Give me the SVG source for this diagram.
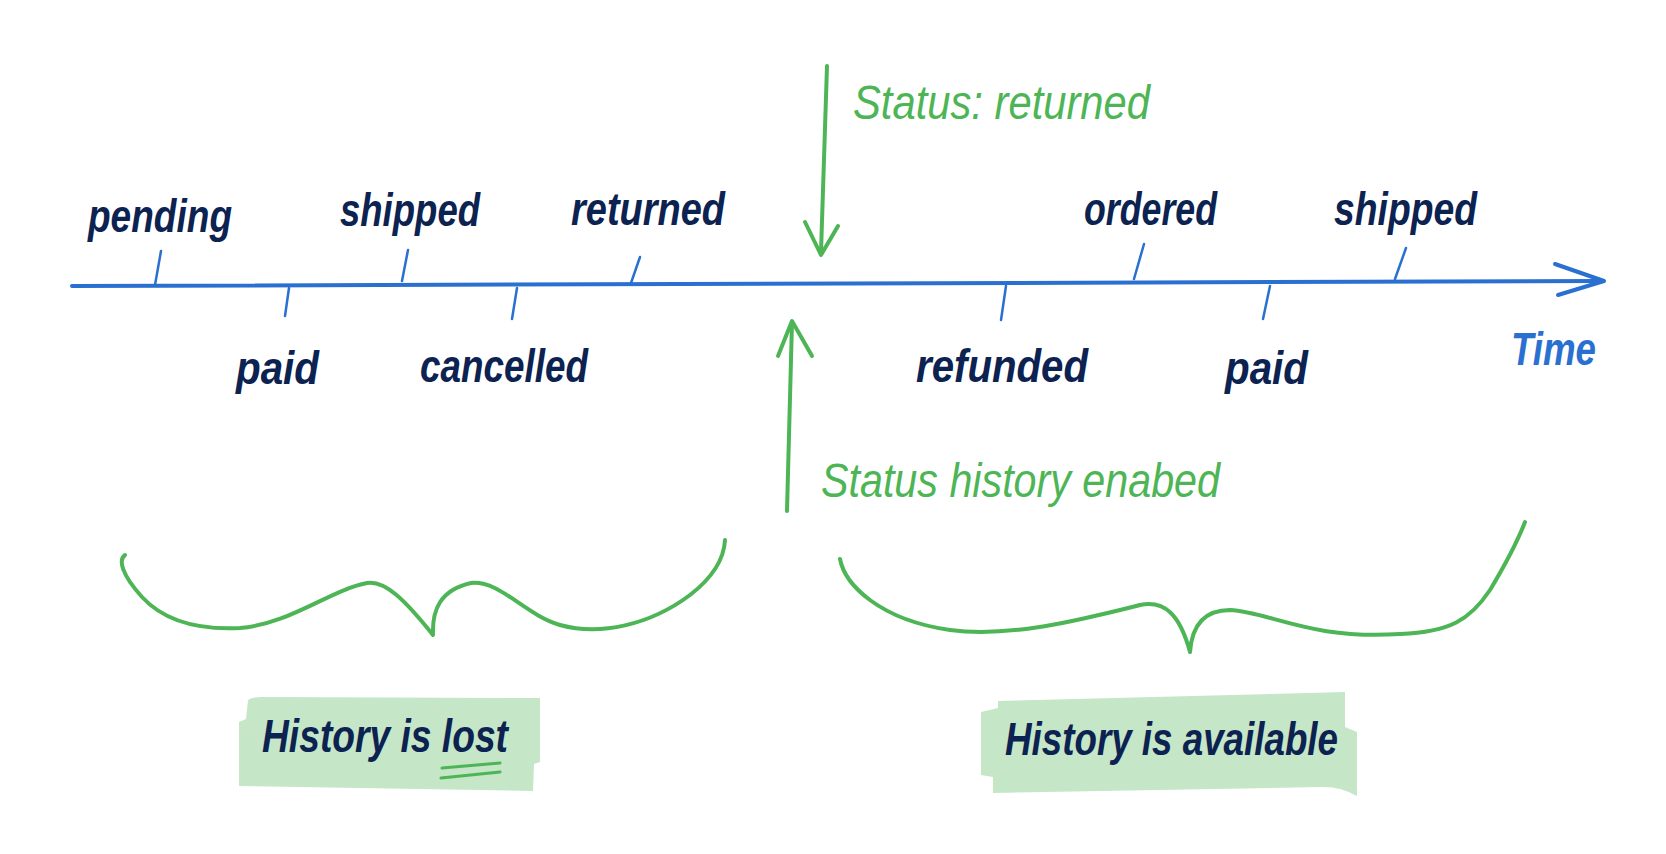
<svg xmlns="http://www.w3.org/2000/svg" width="1666" height="854" viewBox="0 0 1666 854">
<style>
.lbl{font-family:"Liberation Sans",Arial,sans-serif;font-weight:bold;font-style:italic;fill:#0c2251;font-size:46px}
.grn{font-family:"Liberation Sans",Arial,sans-serif;font-style:italic;fill:#4db555;font-size:48px}
.tick{stroke:#2a70d0;stroke-width:2.5;stroke-linecap:round;fill:none}
.axis{stroke:#2a70d0;stroke-width:4;stroke-linecap:round;stroke-linejoin:round;fill:none}
.garrow{stroke:#4db555;stroke-width:4;stroke-linecap:round;stroke-linejoin:round;fill:none}
.brace{stroke:#4db555;stroke-width:4;stroke-linecap:round;stroke-linejoin:round;fill:none}
.box{fill:#c5e6c7}
</style>
<rect width="1666" height="854" fill="#ffffff"/>

<g id="connectors">
  <path class="axis" d="M72,286 Q800,283 1602,281"/>
  <path class="axis" d="M1555,264 L1604,281 L1558,295"/>
  <g id="ticks">
    <line class="tick" x1="161" y1="251" x2="155" y2="285"/>
    <line class="tick" x1="289" y1="288" x2="285" y2="316"/>
    <line class="tick" x1="408" y1="250" x2="402" y2="281"/>
    <line class="tick" x1="517" y1="288" x2="512" y2="319"/>
    <line class="tick" x1="640" y1="257" x2="631" y2="283"/>
    <line class="tick" x1="1006" y1="286" x2="1001" y2="320"/>
    <line class="tick" x1="1144" y1="244" x2="1134" y2="279"/>
    <line class="tick" x1="1270" y1="286" x2="1263" y2="319"/>
    <line class="tick" x1="1406" y1="248" x2="1395" y2="279"/>
  </g>
  <path class="garrow" d="M827,66 L821,252"/>
  <path class="garrow" d="M805,222 L821,255 L838,226"/>
  <path class="garrow" d="M787,511 L792,322"/>
  <path class="garrow" d="M778,356 L792,321 L812,356"/>
</g>

<g id="timeline-labels">
  <text class="lbl" x="88" y="232" textLength="144" lengthAdjust="spacingAndGlyphs">pending</text>
  <text class="lbl" x="340" y="226" textLength="140" lengthAdjust="spacingAndGlyphs">shipped</text>
  <text class="lbl" x="571" y="225" textLength="154" lengthAdjust="spacingAndGlyphs">returned</text>
  <text class="lbl" x="236" y="384" textLength="83" lengthAdjust="spacingAndGlyphs">paid</text>
  <text class="lbl" x="420" y="382" textLength="168" lengthAdjust="spacingAndGlyphs">cancelled</text>
  <text class="lbl" x="916" y="382" textLength="172" lengthAdjust="spacingAndGlyphs">refunded</text>
  <text class="lbl" x="1084" y="225" textLength="133" lengthAdjust="spacingAndGlyphs">ordered</text>
  <text class="lbl" x="1225" y="384" textLength="83" lengthAdjust="spacingAndGlyphs">paid</text>
  <text class="lbl" x="1334" y="225" textLength="143" lengthAdjust="spacingAndGlyphs">shipped</text>
  <text x="1511" y="365" textLength="85" lengthAdjust="spacingAndGlyphs" style="font-family:'Liberation Sans',Arial,sans-serif;font-style:italic;font-weight:bold;fill:#2a70d0;font-size:46px">Time</text>
</g>

<g id="status-returned">
  <text class="grn" x="853" y="119" textLength="297" lengthAdjust="spacingAndGlyphs">Status: returned</text>
</g>
<g id="status-history-enabled">
  <text class="grn" x="821" y="497" textLength="399" lengthAdjust="spacingAndGlyphs">Status history enabed</text>
</g>

<g id="brace-left">
  <path class="brace" d="M125,555 C118,560 122,575 142,597 C165,622 200,630 240,628 C290,624 330,590 367,583 C385,580 405,600 433,635 C432,610 440,590 471,583 C500,580 525,615 560,625 C600,636 650,625 690,595 C712,578 724,560 725,540"/>
</g>
<g id="brace-right">
  <path class="brace" d="M840,559 C845,585 880,620 950,630 C1010,638 1080,620 1140,605 C1165,600 1180,615 1190,652 C1192,625 1205,610 1230,610 C1270,612 1310,640 1400,634 C1450,632 1470,620 1490,590 C1508,560 1518,540 1525,522"/>
</g>

<g id="history-lost">
  <path class="box" d="M248,700 Q252,697 262,697 L540,698 L540,762 L534,764 L533,791 L239,786 L239,722 L246,719 Z"/>
  <text class="lbl" x="262" y="752" textLength="246" lengthAdjust="spacingAndGlyphs">History is lost</text>
  <path d="M442,768 L500,763 M441,778 L500,772" stroke="#4db555" stroke-width="3" stroke-linecap="round" fill="none"/>
</g>

<g id="history-available">
  <path class="box" d="M998,701 L1345,692 L1345,727 L1357,732 L1357,796 Q1340,786 1320,787 L993,793 L993,777 L981,775 L981,712 L998,708 Z"/>
  <text class="lbl" x="1005" y="755" textLength="333" lengthAdjust="spacingAndGlyphs">History is available</text>
</g>
</svg>
